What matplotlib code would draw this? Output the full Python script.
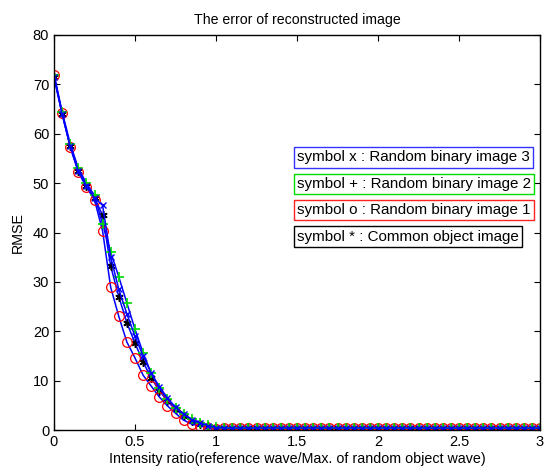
import matplotlib
matplotlib.use('Agg')
import matplotlib.pyplot as plt

plt.rcParams['font.family'] = ['Liberation Sans', 'DejaVu Sans']

# intensity ratio, step 0.05 from 0 to 3
ratio = [round(i * 0.05, 2) for i in range(61)]

tail = [0.4, 0.4, 0.4, 0.4, 0.4, 0.4, 0.4, 0.4, 0.4, 0.4,
        0.4, 0.4, 0.4, 0.4, 0.4, 0.4, 0.4, 0.4, 0.4, 0.4,
        0.4, 0.4, 0.4, 0.4, 0.4, 0.4, 0.4, 0.4, 0.4, 0.4,
        0.4, 0.4, 0.4, 0.4, 0.4, 0.4, 0.4, 0.4, 0.4, 0.4]

# RMSE curves (first 21 points, rest flat)
rmse_img3 = [71.5, 64.0, 57.5, 52.5, 49.5, 47.0, 45.5, 35.0, 28.5, 23.5, 19.0,
             15.0, 11.5, 8.8, 6.5, 4.6, 3.2, 2.1, 1.4, 0.9, 0.5] + tail
rmse_img2 = [72.0, 64.5, 58.0, 53.0, 50.0, 47.5, 41.7, 36.0, 31.0, 25.7, 20.4,
             15.6, 11.5, 8.5, 6.3, 4.5, 3.2, 2.2, 1.5, 1.0, 0.6] + tail
rmse_img1 = [72.0, 64.2, 57.3, 52.2, 49.2, 46.6, 40.3, 28.9, 23.0, 17.8, 14.6,
             11.1, 8.9, 6.7, 4.9, 3.4, 2.0, 1.2, 0.8, 0.5, 0.3] + tail
rmse_common = [71.5, 64.0, 57.5, 52.5, 49.5, 47.0, 43.5, 33.2, 27.0, 21.7, 17.6,
               13.8, 10.5, 8.0, 5.8, 4.2, 2.8, 1.8, 1.2, 0.8, 0.5] + tail

labels = ['symbol x : Random binary image 3',
          'symbol + : Random binary image 2',
          'symbol o : Random binary image 1',
          'symbol * : Common object image']
box_colors = ['#3333ff', '#00dd00', '#ff2222', 'black']

fig = plt.figure(figsize=(5.47, 4.71), dpi=100)
ax = fig.add_axes([54 / 547, 41 / 471, 486 / 547, 395 / 471])

ax.plot(ratio, rmse_common, color='blue', lw=1.1, marker=(6, 2, 0), ms=6,
        mec='black', mew=1.1)
ax.plot(ratio, rmse_img1, color='blue', lw=1.1, marker='o', ms=7,
        mfc='none', mec='red', mew=0.9)
ax.plot(ratio, rmse_img2, color='blue', lw=1.1, marker='+', ms=7,
        mec='#00dd00', mew=1.2)
ax.plot(ratio, rmse_img3, color='blue', lw=1.1, marker='x', ms=5,
        mec='blue', mew=1)

ax.set_xlim(0, 3)
ax.set_ylim(0, 80)
ax.set_xticks([0, 0.5, 1, 1.5, 2, 2.5, 3])
ax.set_xticklabels(['0', '0.5', '1', '1.5', '2', '2.5', '3'])
ax.set_yticks(range(0, 81, 10))
ax.tick_params(direction='in', top=True, right=True, labelsize=10.5, length=4)
for s in ax.spines.values():
    s.set_linewidth(1)

ax.set_title('The error of reconstructed image', fontsize=10.2, pad=8)
ax.set_xlabel('Intensity ratio(reference wave/Max. of random object wave)',
              fontsize=10.3, labelpad=2)
ax.set_ylabel('RMSE', fontsize=10.3, labelpad=6)

# text boxes acting as legend
box_y = [157.5, 184, 210, 236.5]
for lab, col, yy in zip(labels, box_colors, box_y):
    fig.text(297 / 547, 1 - yy / 471, lab, fontsize=10.9, va='center', ha='left',
             bbox=dict(boxstyle='square,pad=0.22', fc='white', ec=col, lw=1))

fig.savefig('out.png', dpi=100)
